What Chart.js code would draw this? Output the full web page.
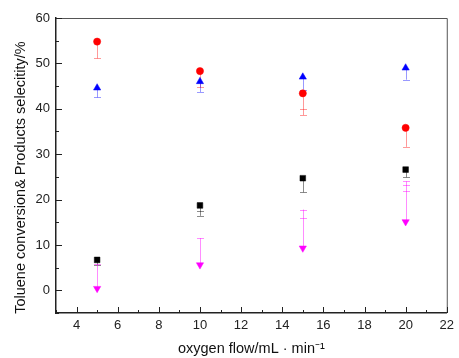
<!DOCTYPE html>
<html>
<head>
<meta charset="utf-8">
<script src="https://cdn.jsdelivr.net/npm/chart.js@4"></script>
<style>
html,body{margin:0;padding:0;background:#fff;}
#wrap{width:459px;height:358px;position:relative;}
</style>
</head>
<body>
<div id="wrap"><canvas id="c" width="459" height="358"></canvas></div>
<script>
// ---- data ----
const xValues = [5, 10, 15, 20];
const conversion = [6.7, 18.7, 24.7, 26.6];
const conversionErr = [5.6, 16.4, 21.6, 24.9];
const conversionCaps = [[], [17.4], [], []];
const selectivityA = [54.8, 48.3, 43.4, 35.8];
const selectivityAErr = [51.1, 44.7, 38.6, 31.6];
const selectivityACaps = [[], [], [39.9], []];
const selectivityB = [44.6, 46.0, 47.0, 49.0];
const selectivityBErr = [42.5, 43.7, 44.2, 46.4];
const selectivityBCaps = [[], [], [], []];
const selectivityC = [0.4, 5.6, 9.3, 15.1];
const selectivityCErr = [5.7, 11.5, 17.8, 24.0];
const selectivityCCaps = [[], [], [16.0], [23.3, 21.9]];
const xTicks = [4, 6, 8, 10, 12, 14, 16, 18, 20, 22];
const yTicks = [0, 10, 20, 30, 40, 50, 60];
const xMinorTicks = [3,5,7,9,11,13,15,17,19,21];
const yMinorTicks = [-5,5,15,25,35,45,55];

function pts(ys){ return xValues.map((x,i)=>({x:x,y:ys[i]})); }

const series = [
  {label:'Conversion', data:conversion, err:conversionErr, caps:conversionCaps, color:'#000000', errColor:'rgba(0,0,0,0.45)', style:'rect', r:4, rot:0},
  {label:'Selectivity A', data:selectivityA, err:selectivityAErr, caps:selectivityACaps, color:'#ff0000', errColor:'rgba(255,0,0,0.4)', style:'circle', r:3.6, rot:0},
  {label:'Selectivity B', data:selectivityB, err:selectivityBErr, caps:selectivityBCaps, color:'#0000ff', errColor:'rgba(0,0,255,0.4)', style:'triangle', r:4.2, rot:0},
  {label:'Selectivity C', data:selectivityC, err:selectivityCErr, caps:selectivityCCaps, color:'#ff00ff', errColor:'rgba(255,0,255,0.45)', style:'triangle', r:4.2, rot:180}
];

const errorBars = {
  id:'errorBars',
  beforeDatasetsDraw(chart){
    const ctx = chart.ctx, xs = chart.scales.x, ys = chart.scales.y;
    ctx.save();
    ctx.lineWidth = 1;
    series.forEach(s=>{
      ctx.strokeStyle = s.errColor;
      xValues.forEach((xv,i)=>{
        const px = Math.round(xs.getPixelForValue(xv))+0.5;
        const p0 = ys.getPixelForValue(s.data[i]);
        const p1 = ys.getPixelForValue(s.err[i]);
        ctx.beginPath();
        ctx.moveTo(px,p0); ctx.lineTo(px,p1);
        const capVals = [s.err[i]].concat(s.caps[i]);
        capVals.forEach(v=>{
          const py = Math.round(ys.getPixelForValue(v))+0.5;
          ctx.moveTo(px-3.5,py); ctx.lineTo(px+3.5,py);
        });
        ctx.stroke();
      });
    });
    ctx.restore();
  }
};

const frame = {
  id:'frame',
  afterDraw(chart){
    const ctx = chart.ctx, a = chart.chartArea, xs = chart.scales.x, ys = chart.scales.y;
    ctx.save();
    ctx.strokeStyle = '#555';
    ctx.lineWidth = 1;
    ctx.beginPath();
    ctx.moveTo(a.left, a.top+0.5); ctx.lineTo(a.right+0.5, a.top+0.5); ctx.lineTo(a.right+0.5, a.bottom);
    ctx.stroke();
    ctx.strokeStyle = '#222';
    ctx.lineWidth = 1;
    ctx.beginPath();
    xTicks.forEach(v=>{ const p=Math.round(xs.getPixelForValue(v))+0.5; ctx.moveTo(p,a.bottom); ctx.lineTo(p,a.bottom-6); });
    xMinorTicks.forEach(v=>{ const p=Math.round(xs.getPixelForValue(v))+0.5; ctx.moveTo(p,a.bottom); ctx.lineTo(p,a.bottom-3); });
    yTicks.forEach(v=>{ const p=Math.round(ys.getPixelForValue(v))+0.5; ctx.moveTo(a.left,p); ctx.lineTo(a.left+6,p); });
    yMinorTicks.forEach(v=>{ const p=Math.round(ys.getPixelForValue(v))+0.5; ctx.moveTo(a.left,p); ctx.lineTo(a.left+3,p); });
    ctx.stroke();
    ctx.restore();
  }
};

const tickFont = {family:'"Liberation Sans", Arial, sans-serif', size:13};

new Chart(document.getElementById('c'), {
  type:'scatter',
  data:{
    datasets: series.map(s=>({
      label:s.label,
      data:pts(s.data),
      pointStyle:s.style,
      pointRadius:s.r,
      pointHoverRadius:s.r,
      pointRotation:s.rot,
      backgroundColor:s.color,
      borderColor:s.color,
      borderWidth:0.5,
      showLine:false
    }))
  },
  options:{
    responsive:false,
    animation:false,
    events:[],
    layout:{padding:{top:18, right:7, left:0, bottom:0}},
    plugins:{legend:{display:false}, tooltip:{enabled:false}},
    scales:{
      x:{
        type:'linear', min:3, max:22,
        afterBuildTicks(s){ s.ticks = xTicks.map(v=>({value:v})); },
        afterFit(s){ s.height = 45; },
        grid:{display:false, drawTicks:false},
        border:{display:true, color:'#222', width:1.5},
        ticks:{color:'#222', font:tickFont, padding:5, maxRotation:0, autoSkip:false},
        title:{display:true, text:'oxygen flow/mL · min⁻¹', color:'#111', font:{family:'"Liberation Sans", Arial, sans-serif', size:14.5}, padding:{top:3,bottom:0}}
      },
      y:{
        type:'linear', min:-5, max:60,
        afterBuildTicks(s){ s.ticks = yTicks.map(v=>({value:v})); },
        afterFit(s){ s.width = 56; },
        grid:{display:false, drawTicks:false},
        border:{display:true, color:'#222', width:1.5},
        ticks:{color:'#222', font:tickFont, padding:6, autoSkip:false},
        title:{display:true, text:'Toluene conversion& Products selecitity/%      ', color:'#111', font:{family:'"Liberation Sans", Arial, sans-serif', size:14.5}, padding:{top:12,bottom:0}}
      }
    }
  },
  plugins:[errorBars, frame]
});
</script>
</body>
</html>
